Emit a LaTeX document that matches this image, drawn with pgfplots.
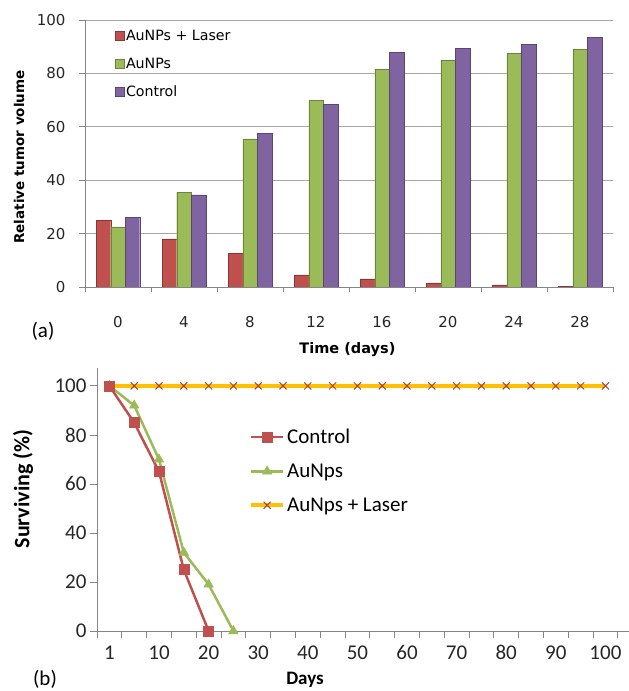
\documentclass[border=0pt]{standalone}
\usepackage{pgfplots}
\pgfplotsset{compat=1.18}
\usepackage{fontspec}
\setmainfont{Carlito}
\newfontfamily\dejavu{DejaVu Sans}
\definecolor{cred}{HTML}{C0504D}
\definecolor{cgreen}{HTML}{9BBB59}
\definecolor{cpurple}{HTML}{8064A2}
\definecolor{cyellow}{HTML}{FFC000}
\definecolor{axgray}{HTML}{868686}
\definecolor{gridgray}{HTML}{A6A6A6}
\begin{document}
\begin{tikzpicture}
\path[use as bounding box] (0pt,0pt) rectangle (629pt,691pt);
% ---------------- (a) ----------------
\begin{axis}[
  at={(85pt,404pt)}, anchor=south west, scale only axis,
  width=528pt, height=267pt,
  xmin=-2, xmax=30, ymin=0, ymax=100,
  axis x line*=bottom, axis y line*=left,
  axis line style={axgray, line width=0.8pt},
  ybar=0pt, bar width=14.5pt,
  every axis plot post/.append style={legend image code/.code={\fill[##1] (-3pt,-4.5pt) rectangle (6pt,4.5pt);}},
  xtick={0,4,...,28}, minor xtick={-2,2,...,30},
  ytick={0,20,...,100},
  tick align=outside,
  major tick length=6pt, minor tick length=5pt,
  major x tick style={draw=none},
  minor x tick style={axgray, line width=0.8pt},
  major y tick style={axgray, line width=0.8pt},
  ymajorgrids, major grid style={gridgray, line width=0.8pt},
  tick label style={font=\dejavu\fontsize{15}{15}\selectfont, text=black!85},
  xticklabel style={yshift=-20pt},
  yticklabel style={xshift=-10pt},
  /pgf/number format/assume math mode=true,
  xlabel={\textbf{Time (days)}},
  xlabel style={at={(axis description cs:0.497,-0.236)}, anchor=center, font=\dejavu\fontsize{14.5}{14.5}\selectfont},
  ylabel={\textbf{Relative tumor volume}},
  ylabel style={at={(axis description cs:-0.125,0.487)}, anchor=center, font=\dejavu\fontsize{13.5}{13.5}\selectfont},
  legend style={at={(axis description cs:0.05,0.978)}, anchor=north west, draw=none, fill=none,
    font=\dejavu\fontsize{14.2}{14.2}\selectfont, row sep=12pt, legend cell align=left},
]
\addplot[fill=cred, draw=cred!70!black]
  coordinates {(0,25) (4,18) (8,12.5) (12,4.5) (16,3) (20,1.5) (24,0.8) (28,0.3)};
\addplot[fill=cgreen, draw=cgreen!70!black]
  coordinates {(0,22.5) (4,35.5) (8,55.5) (12,70) (16,81.5) (20,85) (24,87.5) (28,89)};
\addplot[fill=cpurple, draw=cpurple!70!black]
  coordinates {(0,26) (4,34.5) (8,57.5) (12,68.5) (16,88) (20,89.5) (24,91) (28,93.5)};
\legend{AuNPs + Laser, AuNPs, Control}
\end{axis}
\node[font=\fontsize{21}{21}\selectfont] at (43pt,360pt) {(a)};
% ---------------- (b) ----------------
\begin{axis}[
  at={(97pt,60pt)}, anchor=south west, scale only axis,
  width=532pt, height=263pt,
  xmin=-0.5, xmax=20.95, ymin=0, ymax=107.3,
  axis x line*=bottom, axis y line*=left,
  axis line style={axgray, line width=0.8pt},
  xtick={0,2,...,20}, xticklabels={1,10,20,30,40,50,60,70,80,90,100},
  minor xtick={-0.5,0.5,...,20.5},
  ytick={0,20,...,100},
  tick align=outside,
  major tick length=7pt, minor tick length=7pt,
  major x tick style={draw=none},
  minor x tick style={axgray, line width=0.8pt},
  major y tick style={axgray, line width=0.8pt},
  tick label style={font=\fontsize{21}{21}\selectfont, text=black!85},
  xticklabel style={yshift=-4pt},
  /pgf/number format/assume math mode=true,
  xlabel={\textbf{Days}},
  xlabel style={at={(axis description cs:0.391,-0.186)}, anchor=center, font=\fontsize{19}{19}\selectfont},
  ylabel={\textbf{Surviving (\%)}},
  ylabel style={at={(axis description cs:-0.139,0.54)}, anchor=center, font=\fontsize{22}{22}\selectfont},
  legend style={at={(axis description cs:0.28,0.785)}, anchor=north west, draw=none, fill=none,
    font=\fontsize{21}{21}\selectfont, row sep=15pt, legend cell align=left},
  legend image code/.code={\draw[mark repeat=2,mark phase=2,#1] plot coordinates {(0pt,0pt) (16pt,0pt) (32pt,0pt)};},
  reverse legend,
]
\addplot[cyellow, line width=4pt, mark=x, mark size=5pt, mark options={draw=cred!85!black, line width=1pt}]
  coordinates {(0,100) (1,100) (2,100) (3,100) (4,100) (5,100) (6,100) (7,100) (8,100) (9,100) (10,100)
               (11,100) (12,100) (13,100) (14,100) (15,100) (16,100) (17,100) (18,100) (19,100) (20,100)};
\addplot[cgreen, line width=2.5pt, mark=triangle*, mark size=5.5pt, mark options={fill=cgreen, line width=0.5pt}]
  coordinates {(0,100) (1,92) (2,70) (3,32) (4,19) (5,0)};
\addplot[cred, line width=2.5pt, mark=square*, mark size=5pt, mark options={fill=cred, line width=0.5pt}]
  coordinates {(0,100) (1,85) (2,65) (3,25) (4,0)};
\legend{AuNps + Laser, AuNps, Control}
\end{axis}
\node[font=\fontsize{21}{21}\selectfont] at (45pt,12pt) {(b)};
\end{tikzpicture}
\end{document}
